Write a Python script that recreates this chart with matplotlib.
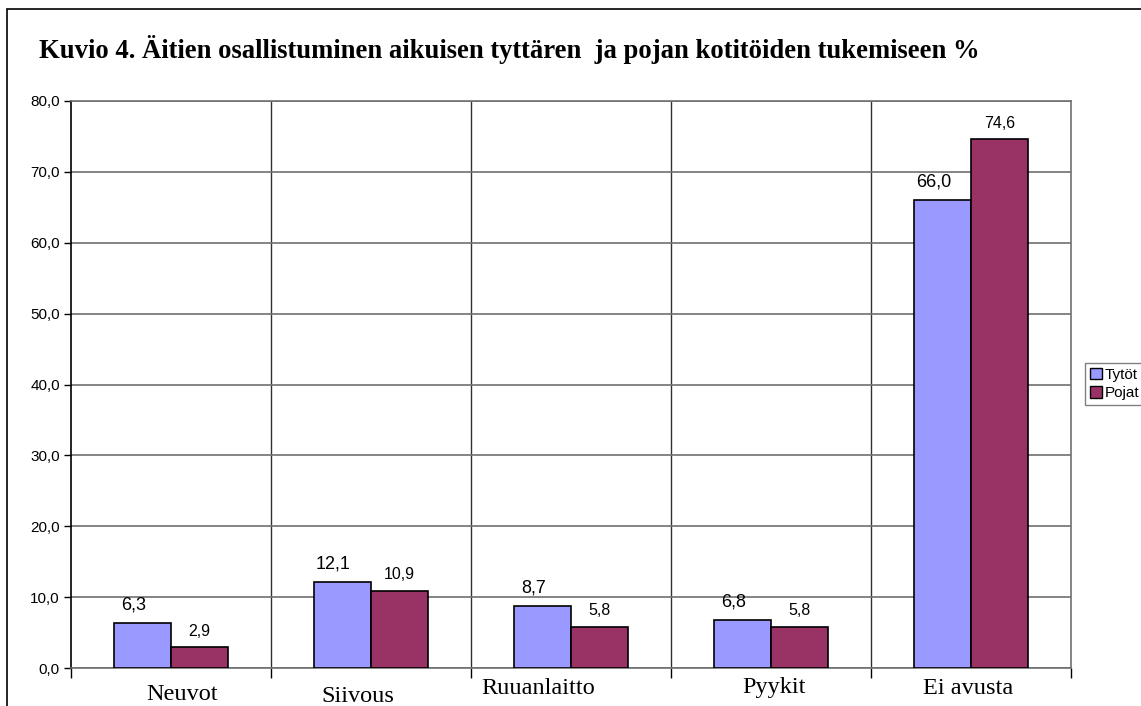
#imports
import numpy as np
import matplotlib.pyplot as plt
from matplotlib.patches import Rectangle, Patch
from matplotlib.ticker import FuncFormatter

#data
kategoriat = ["Neuvot", "Siivous", "Ruuanlaitto", "Pyykit", "Ei avusta"]
tytot = [6.3, 12.1, 8.7, 6.8, 66.0]
pojat = [2.9, 10.9, 5.8, 5.8, 74.6]
otsikko = "Kuvio 4. Äitien osallistuminen aikuisen tyttären  ja pojan kotitöiden tukemiseen %"

#label offsets in pixels (category labels in the original are not centred)
kat_dx = [11, -13, -33, 3, -3]
kat_y = [695, 697, 688, 688, 688]

sininen = "#9999FF"
viini = "#993366"

fig = plt.figure(figsize=(11.41, 7.06), dpi=100)
W, H = 1141, 706

#outer frame
fig.patches.append(Rectangle((7 / W, -0.1), 1.2, 1 - 9 / H + 0.1, transform=fig.transFigure,
                             fill=False, edgecolor="black", lw=1.2))

ax = fig.add_axes([71 / W, 38 / H, 1000 / W, 567 / H])
x = np.arange(len(kategoriat))
lev = 0.285
b1 = ax.bar(x - lev / 2, tytot, lev, color=sininen, edgecolor="black", lw=1.2, zorder=3)
b2 = ax.bar(x + lev / 2, pojat, lev, color=viini, edgecolor="black", lw=1.2, zorder=3)

ax.set_xlim(-0.5, len(kategoriat) - 0.5)
ax.set_ylim(0, 80)
ax.set_yticks(np.arange(0, 81, 10))
ax.yaxis.set_major_formatter(FuncFormatter(lambda v, p: f"{v:.1f}".replace(".", ",")))
ax.tick_params(axis="y", direction="out", length=5, width=1, labelsize=11, pad=3)
for t in ax.get_yticklabels():
    t.set_fontfamily("Liberation Sans")

#x ticks at category borders
ax.set_xticks(np.arange(-0.5, len(kategoriat), 1))
ax.set_xticklabels([])
ax.tick_params(axis="x", direction="out", length=7, width=1, color="black")
ax.grid(axis="y", color="#707070", lw=1.2, zorder=0)
for raja in np.arange(0.5, len(kategoriat) - 0.5, 1):
    ax.axvline(raja, color="#303030", lw=1.0, zorder=0)

for s in ["top", "right", "bottom"]:
    ax.spines[s].set_color("#707070")
    ax.spines[s].set_linewidth(1.2)
ax.spines["left"].set_color("black")
ax.spines["left"].set_linewidth(1.2)

#value labels
for i in range(len(kategoriat)):
    ax.annotate(f"{tytot[i]:.1f}".replace(".", ","), (x[i] - lev / 2, tytot[i]),
                xytext=(-9, 18), textcoords="offset pixels", ha="center", va="center",
                fontsize=13, family="Liberation Sans")
    ax.annotate(f"{pojat[i]:.1f}".replace(".", ","), (x[i] + lev / 2, pojat[i]),
                xytext=(0, 16), textcoords="offset pixels", ha="center", va="center",
                fontsize=11.5, family="Liberation Sans")

#category labels
for i, k in enumerate(kategoriat):
    px = ax.transData.transform((x[i], 0))[0] + kat_dx[i]
    fig.text(px / W, 1 - kat_y[i] / H, k, ha="center", va="center",
             fontsize=17.5, family="Liberation Serif")

fig.text(39 / W, 1 - 50 / H, otsikko, ha="left", va="center", fontsize=19.2,
         family="Liberation Serif", fontweight="bold")

fig.legend(handles=[Patch(facecolor=sininen, edgecolor="black", label="Tytöt"),
                    Patch(facecolor=viini, edgecolor="black", label="Pojat")],
           loc="upper left", bbox_to_anchor=(1085 / W, 1 - 363 / H),
           prop={"family": "Liberation Sans", "size": 11},
           handlelength=0.8, handleheight=0.8, handletextpad=0.2, labelspacing=0.3,
           borderpad=0.3, borderaxespad=0, fancybox=False, edgecolor="#808080",
           framealpha=1)

plt.savefig("out.png", dpi=100)
